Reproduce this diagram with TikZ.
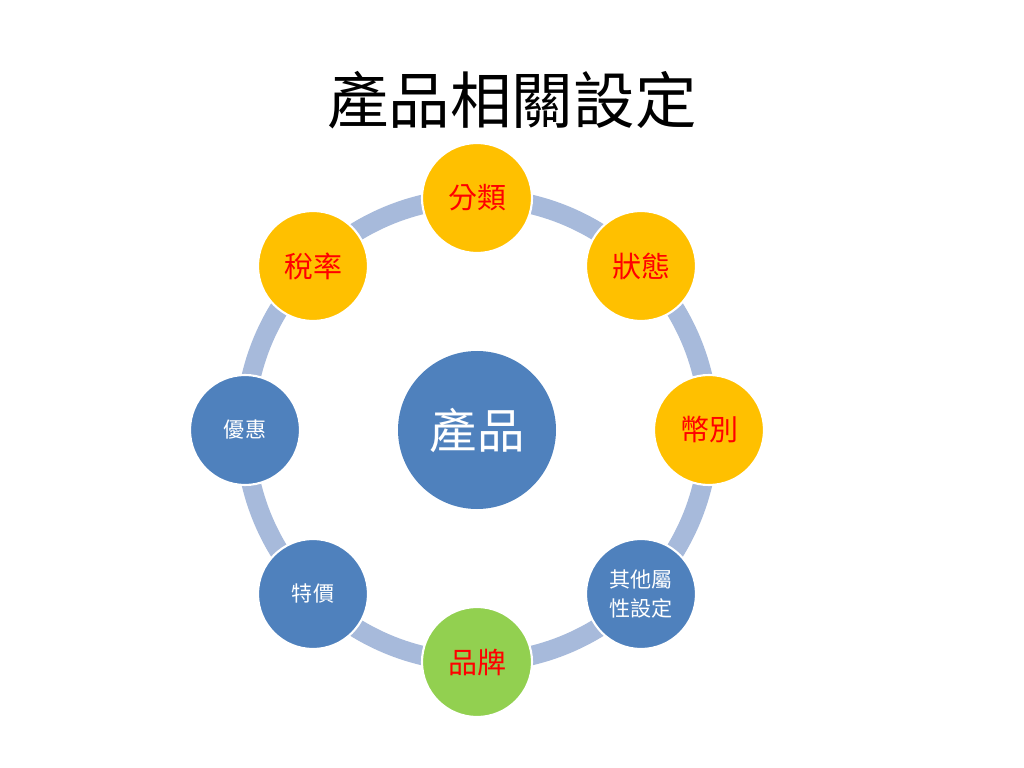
\documentclass[tikz,border=0pt]{standalone}
\usepackage{fontspec}
\setmainfont{Noto Sans CJK TC}
\definecolor{ringblue}{HTML}{A7BADB}
\definecolor{gold}{HTML}{FFC000}
\definecolor{steel}{HTML}{4F81BD}
\definecolor{leaf}{HTML}{92D050}
\begin{document}
\begin{tikzpicture}[thick,
        sat node/.style={circle,draw=white,line width=1.2pt,minimum size=2.2cm,inner sep=0pt,align=center},
        warm node/.style={sat node,fill=gold,text=red,font=\fontsize{16.5}{18}\selectfont},
        cool node/.style={sat node,fill=steel,text=white,font=\fontsize{12}{16}\selectfont}]
      \useasboundingbox (0,0) rectangle (20.48,-15.36);
      \node (T) at (10.24,-2.0) {\fontsize{35}{38}\selectfont 產品相關設定};
      \coordinate (C) at (9.54,-8.6);
      \draw[ringblue,line width=11pt] (C) circle (4.64cm);
      \node[circle,fill=steel,text=white,minimum size=3.16cm,font=\fontsize{27}{30}\selectfont] (P) at (C) {產品};
      \node[warm node] (cls) at (9.54,-3.96) {分類};
      \node[warm node] (st)  at (12.82,-5.32) {狀態};
      \node[warm node] (cur) at (14.18,-8.6) {幣別};
      \node[cool node] (oth) at (12.82,-11.88) {其他屬\\性設定};
      \node[warm node,fill=leaf] (br) at (9.54,-13.24) {品牌};
      \node[cool node] (sp)  at (6.26,-11.88) {特價};
      \node[cool node] (dis) at (4.90,-8.6) {優惠};
      \node[warm node] (tax) at (6.26,-5.32) {稅率};
\end{tikzpicture}
\end{document}
